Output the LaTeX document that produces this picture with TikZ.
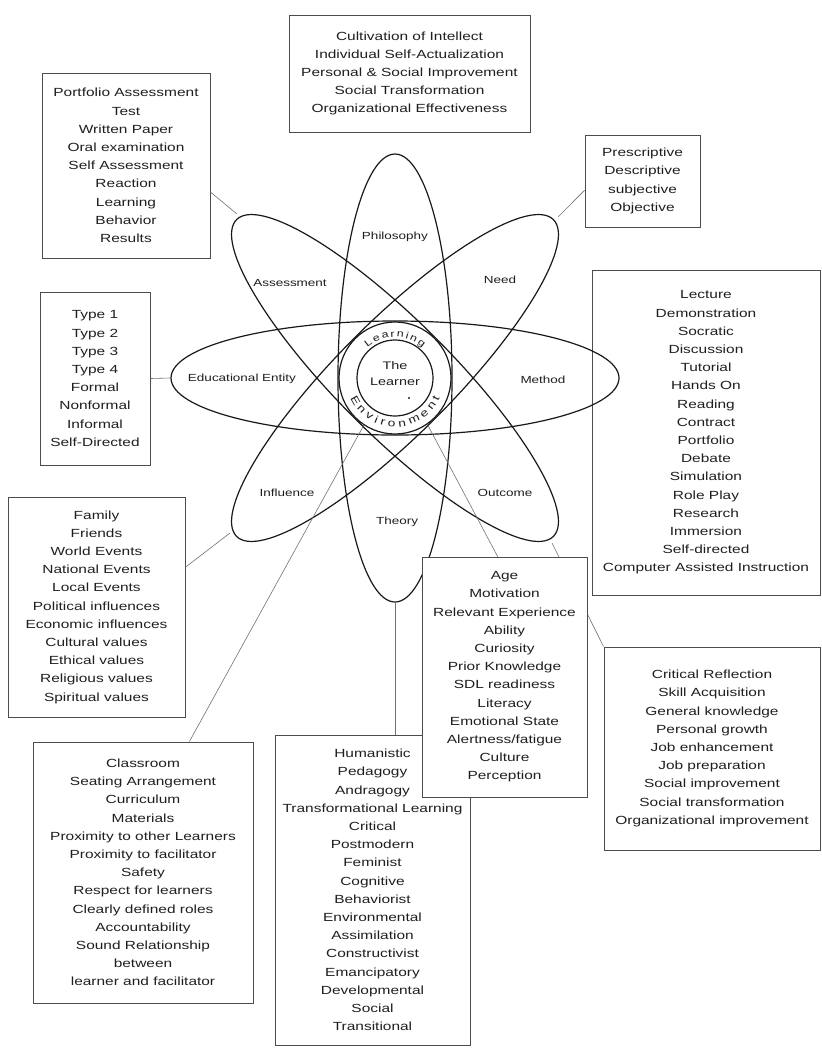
\documentclass[tikz,border=0pt]{standalone}
\usepackage{fontspec}
\setmainfont[FakeStretch=1.31]{Liberation Sans}
\usetikzlibrary{decorations.text,calc}
\definecolor{boxline}{gray}{0.30}
\definecolor{txt}{gray}{0.12}
\definecolor{orbline}{gray}{0.10}
\definecolor{linkc}{gray}{0.45}
\begin{document}
\begin{tikzpicture}[x=1pt,y=1pt,
  box/.style={draw=boxline, line width=0.9pt, fill=white, inner sep=0pt, align=center, text=txt, font=\fontsize{11.8}{18.2}\selectfont},
  lbl/.style={text=txt, font=\fontsize{10.3}{12}\selectfont, inner sep=0pt},
  orb/.style={draw=orbline, line width=1.2pt},
  link/.style={draw=linkc, line width=0.6pt}]
\useasboundingbox (0,0) rectangle (822,-1050);
\fill[white] (0,0) rectangle (822,-1050);
\coordinate (C) at (395,-378);

% box overlapped by the Method ellipse
\node[box, minimum width=228pt, minimum height=325pt] (methodbox) at (706,-432.5)
 {Lecture\\Demonstration\\Socratic\\Discussion\\Tutorial\\Hands On\\Reading\\Contract\\Portfolio\\Debate\\Simulation\\Role Play\\Research\\Immersion\\Self-directed\\Computer Assisted Instruction};

% other boxes
\node[box, minimum width=241pt, minimum height=117pt] (philbox) at (409.5,-73.5)
 {Cultivation of Intellect\\Individual Self-Actualization\\Personal \& Social Improvement\\Social Transformation\\Organizational Effectiveness};
\node[box, minimum width=168pt, minimum height=185pt] (assessbox) at (126,-165.5)
 {Portfolio Assessment\\Test\\Written Paper\\Oral examination\\Self Assessment\\Reaction\\Learning\\Behavior\\Results};
\node[box, minimum width=115pt, minimum height=92pt] (needbox) at (642.5,-181)
 {Prescriptive\\Descriptive\\subjective\\Objective};
\node[box, minimum width=110pt, minimum height=173pt] (entitybox) at (95,-378.5)
 {Type 1\\Type 2\\Type 3\\Type 4\\Formal\\Nonformal\\Informal\\Self-Directed};
\node[box, minimum width=177pt, minimum height=220pt] (influencebox) at (96.5,-607)
 {Family\\Friends\\World Events\\National Events\\Local Events\\Political influences\\Economic influences\\Cultural values\\Ethical values\\Religious values\\Spiritual values};
\node[box, minimum width=220pt, minimum height=261pt] (envbox) at (143,-872.5)
 {Classroom\\Seating Arrangement\\Curriculum\\Materials\\Proximity to other Learners\\Proximity to facilitator\\Safety\\Respect for learners\\Clearly defined roles\\Accountability\\Sound Relationship\\between\\learner and facilitator};
\node[box, minimum width=216pt, minimum height=203pt] (outcomebox) at (712,-748.5)
 {Critical Reflection\\Skill Acquisition\\General knowledge\\Personal growth\\Job enhancement\\Job preparation\\Social improvement\\Social transformation\\Organizational improvement};
\node[box, minimum width=195pt, minimum height=310pt] (theorybox) at (372.5,-890)
 {Humanistic\\Pedagogy\\Andragogy\\Transformational Learning\\Critical\\Postmodern\\Feminist\\Cognitive\\Behaviorist\\Environmental\\Assimilation\\Constructivist\\Emancipatory\\Developmental\\Social\\Transitional};

% ellipses (orbits)
\draw[orb] (C) ellipse [x radius=224, y radius=57];
\draw[orb] (C) ellipse [x radius=224, y radius=57, rotate=45];
\draw[orb] (C) ellipse [x radius=224, y radius=57, rotate=90];
\draw[orb] (C) ellipse [x radius=224, y radius=57, rotate=135];

% centre rings
\draw[orb, fill=white] (C) circle [radius=56];
\draw[orb] (C) circle [radius=38];
\node[lbl, align=center, font=\fontsize{11}{16}\selectfont] (learner) at (395,-374) {The\\Learner};
\path[decorate, decoration={text along path, text align={fit to path}, text color=txt,
   text={|\fontsize{9.5}{11}\selectfont|Learning}}]
   ([shift={(132:41)}]C) arc [start angle=132, end angle=48, radius=41];
\path[decorate, decoration={text along path, text align={fit to path}, text color=txt,
   text={|\fontsize{10.5}{12}\selectfont|Environment}}]
   ([shift={(204:49)}]C) arc [start angle=204, end angle=336, radius=49];
\fill[txt] (409,-398) circle [radius=1.2];

% orbit labels
\node[lbl] (philosophy) at (395,-237) {Philosophy};
\node[lbl] (need) at (500,-280) {Need};
\node[lbl] (method) at (543,-380) {Method};
\node[lbl] (outcome) at (505,-493) {Outcome};
\node[lbl] (theory) at (397,-522) {Theory};
\node[lbl] (influence) at (287,-493) {Influence};
\node[lbl] (entity) at (242,-379) {Educational Entity};
\node[lbl] (assessment) at (290,-283) {Assessment};

% connector end points on the orbits
\coordinate (assessEnd) at (237,-214);
\coordinate (needEnd) at (558,-217);
\coordinate (entityEnd) at (171,-378);
\coordinate (influenceEnd) at (230,-533);
\coordinate (ringSW) at ($(C)+(236.5:56)$);
\coordinate (ringSE) at ($(C)+(-55:56)$);
\coordinate (theoryEnd) at (395,-603);
\coordinate (outcomeEnd) at (552,-543);

% connectors
\draw[link] ($(assessbox.north east)!0.643!(assessbox.south east)$) -- (assessEnd);
\draw[link] ($(needbox.north west)!0.6!(needbox.south west)$) -- (needEnd);
\draw[link] (entitybox.east) -- (entityEnd);
\draw[link] ($(influencebox.north east)!0.32!(influencebox.south east)$) -- (influenceEnd);
\draw[link] (ringSW) -- ($(envbox.north west)!0.71!(envbox.north east)$);
\draw[link] (theoryEnd) -- (theoryEnd |- theorybox.north);
\draw[link] (outcomeEnd) -- (outcomebox.north west);
\draw[link] (ringSE) -- ($(422,-557)!0.46!(587,-557)$);

% Age box on top
\node[box, minimum width=165pt, minimum height=240pt] (agebox) at (504.5,-677)
 {Age\\Motivation\\Relevant Experience\\Ability\\Curiosity\\Prior Knowledge\\SDL readiness\\Literacy\\Emotional State\\Alertness/fatigue\\Culture\\Perception};
\end{tikzpicture}
\end{document}
